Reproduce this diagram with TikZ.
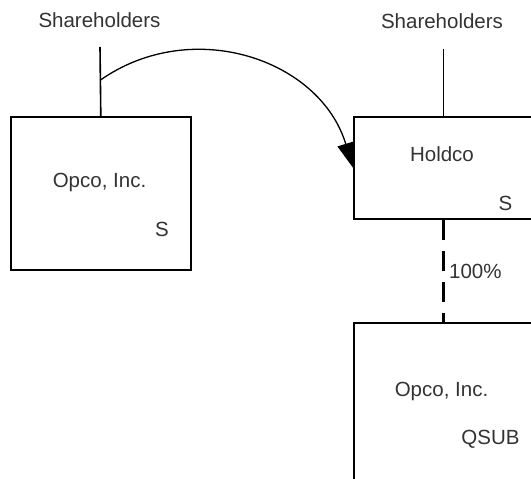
\documentclass[tikz,border=0pt]{standalone}
\usepackage{fontspec}
\setmainfont{Liberation Sans}
\usetikzlibrary{arrows.meta}
\begin{document}
\begin{tikzpicture}[x=1pt,y=-1pt,
  lbl/.style={font=\fontsize{20.5}{24}\selectfont, text=black!80, inner sep=0pt, anchor=base},
  entity/.style={draw, line width=1.6pt, inner sep=0pt, anchor=north west},
  tie/.style={line width=1.6pt},
  own/.style={line width=2.4pt, dash pattern=on 20pt off 11pt},
  move/.style={line width=1.3pt, -{Triangle[length=25pt,width=17pt]}}
]
\useasboundingbox (0,0) rectangle (531,479);
\clip (0,0) rectangle (531,479);

% entities (the right-hand boxes run past the page edge)
\node[entity, minimum width=180pt, minimum height=153pt] (opco) at (10,116) {};
\node[entity, minimum width=200pt, minimum height=102pt] (holdco) at (353,116) {};
\node[entity, minimum width=200pt, minimum height=180pt] (qsub) at (353,322) {};

% labels
\node[lbl] (shL) at (99.5,27.5) {Shareholders};
\node[lbl] (shR) at (442,28.3) {Shareholders};
\node[lbl] (opcoName) at (99.5,187.5) {Opco, Inc.};
\node[lbl] (opcoTag) at (162,236) {S};
\node[lbl] (holdcoName) at (442,161.7) {Holdco};
\node[lbl] (holdcoTag) at (505.5,210) {S};
\node[lbl] (qsubName) at (441.5,396.5) {Opco, Inc.};
\node[lbl] (qsubTag) at (490.5,444.5) {QSUB};
\node[lbl, anchor=base west] (pct) at (449,278) {100\%};

% shareholder ties
\coordinate (shLfoot) at (100,47);
\coordinate (shRfoot) at (443.3,49);
\draw[tie] (shLfoot) -- (opco.north);
\draw[tie] (shRfoot) -- (shRfoot |- holdco.north);

% 100% ownership
\draw[own] (holdco.south -| shRfoot) -- (qsub.north -| shRfoot);

% transfer of shareholders to Holdco
\coordinate (bend) at (100.5,80);
\draw[move] (bend) .. controls (192,16) and (320,59) .. (holdco.west);
\end{tikzpicture}
\end{document}
